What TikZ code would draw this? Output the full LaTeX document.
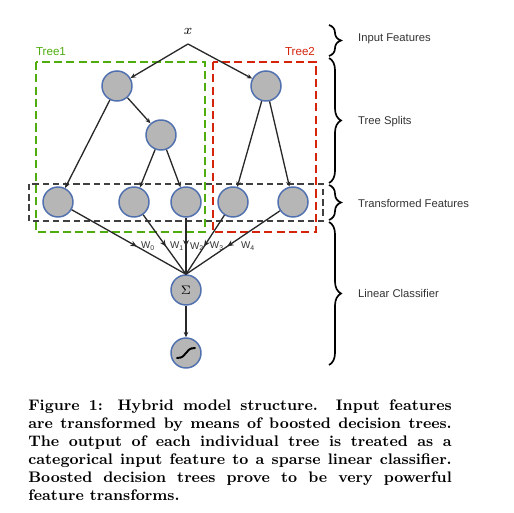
\documentclass[tikz,border=0pt]{standalone}
\usepackage{fontspec}
\setsansfont{Liberation Sans}
\usepackage{xcolor}
\usetikzlibrary{arrows.meta,positioning,decorations.pathreplacing,decorations.markings}
\definecolor{nodegray}{RGB}{182,182,182}
\definecolor{nodeblue}{RGB}{80,112,175}
\definecolor{treegreen}{RGB}{78,172,12}
\definecolor{treered}{RGB}{212,36,10}
\definecolor{linkgray}{RGB}{40,40,40}
\tikzset{
  % circle of the model
  treenode/.style={
    circle,
    draw=nodeblue,
    line width=0.85pt,
    fill=nodegray,
    minimum size=0.6cm,
    inner sep=0pt
  },
  % plain arrow between nodes
  link/.style={-{Stealth[length=3pt,width=2.6pt]}, line width=0.75pt, linkgray},
  % weighted arrow, tip in the middle
  wlink/.style={
    line width=0.75pt, linkgray,
    postaction={decorate},
    decoration={markings, mark=at position #1 with {\arrow{Stealth[length=3.6pt,width=3.2pt]}}}
  },
  wlink/.default=0.55,
  % dashed boxes
  treebox/.style={dash pattern=on 4.6pt off 2.4pt, line width=0.9pt},
  featbox/.style={dash pattern=on 3.6pt off 2.2pt, line width=0.85pt, black!75},
  % braces on the right
  layerbrace/.style={decorate, decoration={brace, amplitude=0.24cm}, line width=0.95pt},
  layerlab/.style={font=\sffamily\fontsize{6.4}{7.7}\selectfont, anchor=west, text=black!80},
  treelab/.style={font=\sffamily\fontsize{6.6}{7.9}\selectfont},
  wlab/.style={font=\sffamily\fontsize{5.6}{6.7}\selectfont, text=black!80, anchor=west, inner sep=0.5pt},
}

\begin{document}
\begin{tikzpicture}[x=0.02cm, y=-0.02cm]
    \useasboundingbox (0,0) rectangle (514,513);

    % Boxes of the trees
    \draw[treebox, draw=treegreen] (36,62) rectangle (205,232);
    \draw[treebox, draw=treered] (213,62) rectangle (316,232);
    \draw[featbox] (29,184) rectangle (323,221);
    \node[treelab, text=treegreen] (t1lab) at (51,52) {Tree1};
    \node[treelab, text=treered] (t2lab) at (300,52) {Tree2};

    % Input
    \node[font=\fontsize{8}{9}\selectfont] (x) at (188,31) {$x$};
    \coordinate (fork) at (188,44);

    % Tree nodes
    \node[treenode] (r1) at (117,86) {};
    \node[treenode] (r2) at (266,86) {};
    \node[treenode] (s1) at (161,135) {};
    \node[treenode] (l1) at (58,202) {};
    \node[treenode] (l2) at (134,202) {};
    \node[treenode] (l3) at (186,202) {};
    \node[treenode] (l4) at (233,202) {};
    \node[treenode] (l5) at (293,202) {};

    % Classifier
    \node[treenode, font=\fontsize{7.5}{9}\selectfont] (sum) at (186,290) {$\Sigma$};
    \node[treenode] (out) at (186,353) {};
    \draw[line width=1.1pt, line cap=round] ([shift={(-9,5)}]out.center)
        .. controls ([shift={(2,5)}]out.center) and ([shift={(-2,-5)}]out.center) .. ([shift={(9,-5)}]out.center);

    % Splits
    \draw[link] (fork) -- (r1);
    \draw[link] (fork) -- (r2);
    \draw[link] (r1) -- (l1);
    \draw[link] (r1) -- (s1);
    \draw[link] (s1) -- (l2);
    \draw[link] (s1) -- (l3);
    \draw[link] (r2) -- (l4);
    \draw[link] (r2) -- (l5);

    % Weights
    \draw[wlink=0.57] (l1) -- (sum.north) node[wlab, pos=0.57, xshift=1.5pt] {W\textsubscript{0}};
    \draw[wlink=0.53] (l2) -- (sum.north) node[wlab, pos=0.53, xshift=1.5pt] {W\textsubscript{1}};
    \draw[wlink=0.51] (l3) -- (sum.north) node[wlab, pos=0.51, xshift=1.5pt] {W\textsubscript{2}};
    \draw[wlink=0.53] (l4) -- (sum.north) node[wlab, pos=0.53, xshift=2.5pt] {W\textsubscript{3}};
    \draw[wlink=0.56] (l5) -- (sum.north) node[wlab, pos=0.56, xshift=7pt] {W\textsubscript{4}};
    \draw[link] (sum) -- (out);

    % Braces
    \draw[layerbrace] (329,25) -- (329,56);
    \draw[layerbrace] (329,58) -- (329,183);
    \draw[layerbrace] (329,185) -- (329,220);
    \draw[layerbrace] (329,222) -- (329,365);
    \node[layerlab] (inlab) at (352,39) {Input Features};
    \node[layerlab] (splitlab) at (352,122) {Tree Splits};
    \node[layerlab] (featlab) at (352,203) {Transformed Features};
    \node[layerlab] (linlab) at (352,293) {Linear Classifier};

    % Caption
    \node[anchor=north west, text width=241pt, inner sep=0pt, align=justify,
          font=\bfseries\fontsize{8.7}{10.3}\selectfont] (caption) at (28,399)
        {Figure 1: Hybrid model structure. Input features\linebreak
         are transformed by means of boosted decision trees.\linebreak
         The output of each individual tree is treated as a\linebreak
         categorical input feature to a sparse linear classifier.\linebreak
         Boosted decision trees prove to be very powerful\linebreak
         feature transforms.};
\end{tikzpicture}
\end{document}
